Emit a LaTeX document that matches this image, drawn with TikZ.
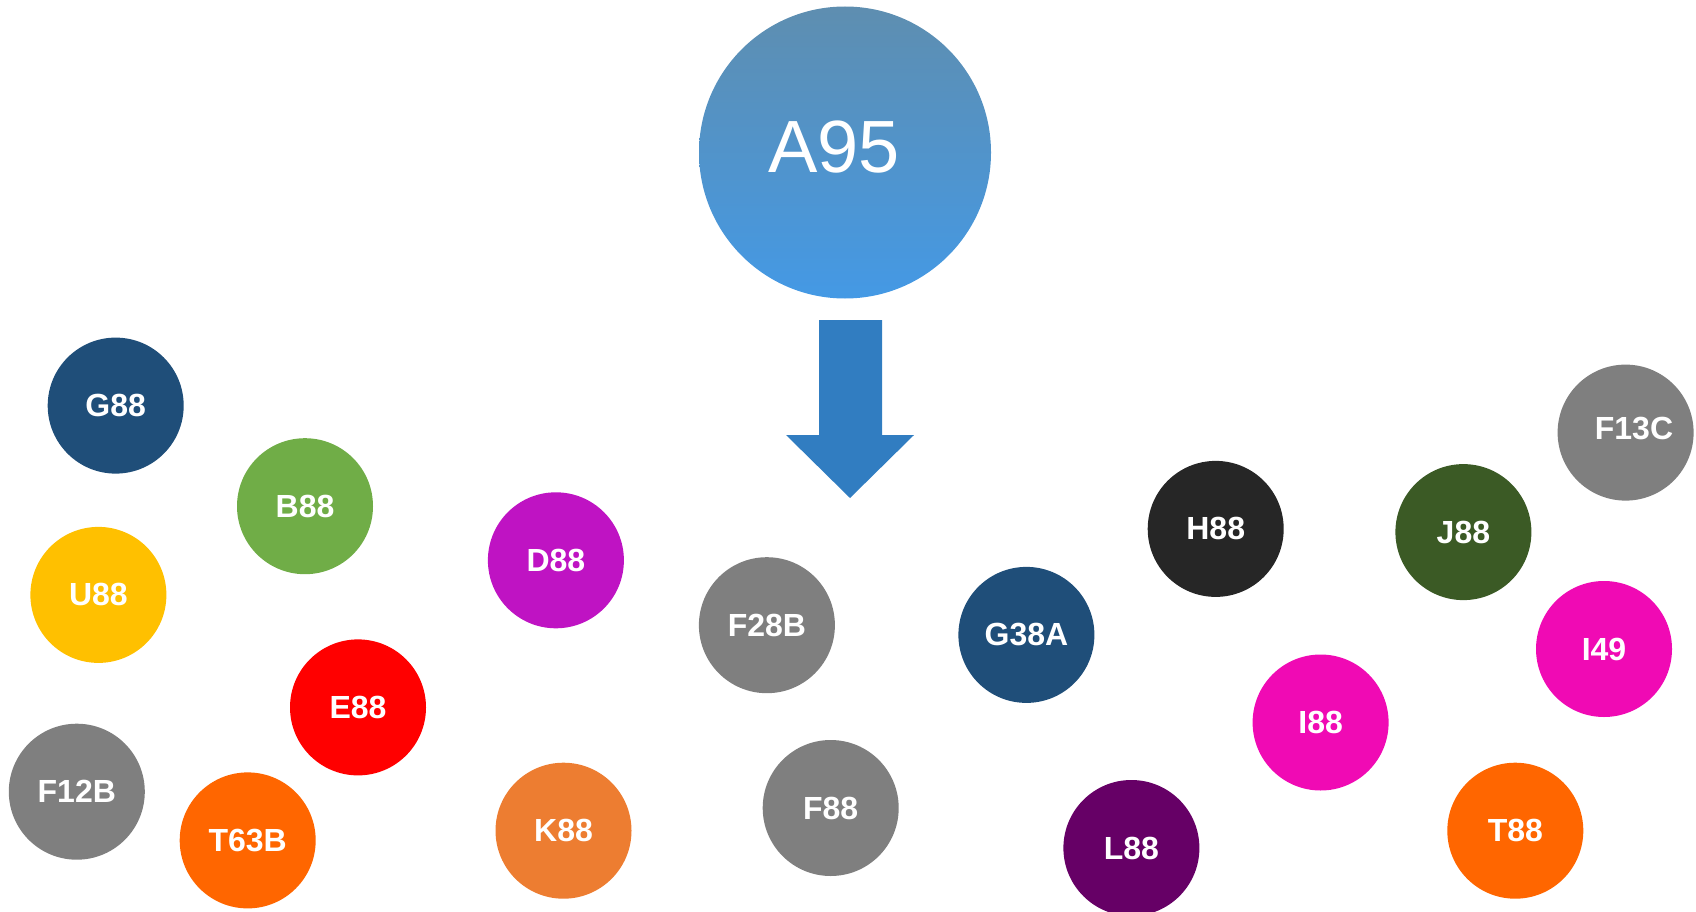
\documentclass[tikz,border=0pt]{standalone}
\usepackage{fontspec}
\setmainfont{Liberation Sans}
\definecolor{cNavy}{HTML}{1F4E79}
\definecolor{cGreen}{HTML}{70AD47}
\definecolor{cGold}{HTML}{FFC000}
\definecolor{cRed}{HTML}{FF0000}
\definecolor{cGray}{HTML}{7F7F7F}
\definecolor{cOrange}{HTML}{FF6600}
\definecolor{cViolet}{HTML}{BF13C3}
\definecolor{cLtOrange}{HTML}{ED7D31}
\definecolor{cBlack}{HTML}{262626}
\definecolor{cPlum}{HTML}{660066}
\definecolor{cPink}{HTML}{F00AB4}
\definecolor{cDkGreen}{HTML}{3B5A25}
\definecolor{cTopBlue}{HTML}{5E8EB0}
\definecolor{cBotBlue}{HTML}{4499E5}
\definecolor{cArrow}{HTML}{317DC1}
\begin{document}
\begin{tikzpicture}[x=1pt,y=-1pt,
  ball/.style={circle, fill=#1, draw=none, minimum size=136pt, inner sep=0pt,
    text=white, font=\fontsize{32}{36}\selectfont\bfseries},
  lbl/.style={text=white, inner sep=0pt, font=\fontsize{32}{36}\selectfont\bfseries},
  bigball/.style={circle, draw=none, minimum size=292pt, inner sep=0pt,
    top color=cTopBlue, bottom color=cBotBlue},
  bigtext/.style={text=white, inner sep=0pt, font=\fontsize{74}{80}\selectfont}]
\useasboundingbox (0,0) rectangle (1696,912);
\clip (0,0) rectangle (1696,912);
\node[bigball] (a95) at (845,152.5) {};
\node[bigtext] (a95t) at (834,147) {A95};
\fill[cArrow] (819,320) -- (882,320) -- (882,435) -- (914,435) -- (850,498) -- (786,435) -- (819,435) -- cycle;
\node[ball=cNavy] (g88) at (115.7,405.6) {G88};
\node[ball=cGreen] (b88) at (305.0,506.2) {B88};
\node[ball=cGold] (u88) at (98.4,594.9) {U88};
\node[ball=cViolet] (d88) at (555.9,560.3) {D88};
\node[ball=cRed] (e88) at (358.0,707.4) {E88};
\node[ball=cGray] (f12b) at (76.8,791.7) {F12B};
\node[ball=cOrange] (t63b) at (247.7,840.4) {T63B};
\node[ball=cLtOrange] (k88) at (563.5,830.7) {K88};
\node[ball=cGray] (f28b) at (766.9,625.2) {F28B};
\node[ball=cGray] (f88) at (830.7,808.0) {F88};
\node[ball=cNavy] (g38a) at (1026.4,634.9) {G38A};
\node[ball=cBlack] (h88) at (1215.7,528.9) {H88};
\node[ball=cPlum] (l88) at (1131.4,848.0) {L88};
\node[ball=cPink] (i88) at (1320.6,722.5) {I88};
\node[ball=cDkGreen] (j88) at (1463.4,532.1) {J88};
\node[ball=cGray] (f13c) at (1625.6,432.6) {};
\node[lbl] (f13ct) at (1634,429) {F13C};
\node[ball=cPink] (i49) at (1604.0,649.0) {I49};
\node[ball=cOrange] (t88) at (1515.3,830.7) {T88};
\end{tikzpicture}
\end{document}
